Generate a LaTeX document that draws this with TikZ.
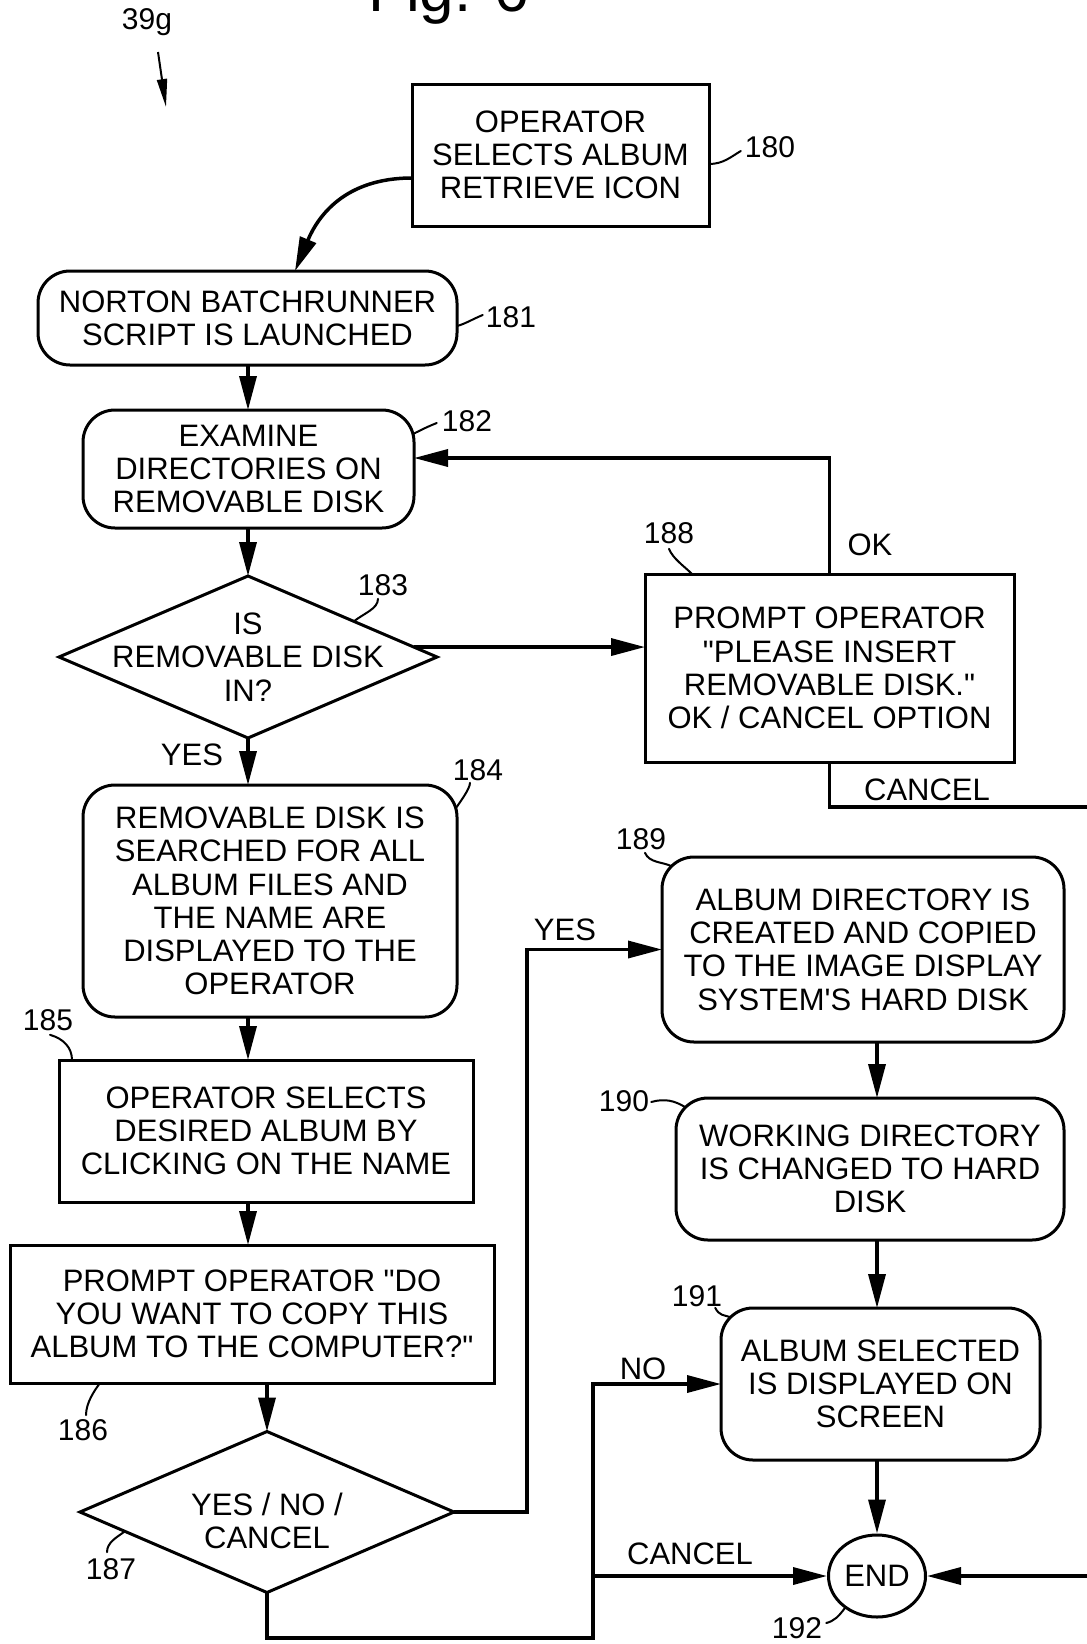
\documentclass[tikz,border=0pt]{standalone}
\usepackage{fontspec}
\setmainfont{Liberation Sans}[Ligatures=TeXOff]
\usetikzlibrary{arrows.meta,shapes.geometric,calc}
\newcommand\txtfont{\fontsize{31}{33.3}\selectfont}
\newcommand\numfont{\fontsize{30}{32}\selectfont}
\begin{document}
\begin{tikzpicture}[x=1pt,y=-1pt,
  box/.style={draw,line width=3pt,align=center,font=\txtfont,inner sep=0pt,outer sep=0pt},
  rbox/.style={box,rounded corners=32pt},
  dia/.style={draw,diamond,line width=3pt,inner sep=0pt,outer sep=0pt},
  txt/.style={align=center,font=\txtfont,inner sep=0pt},
  lbl/.style={font=\numfont,inner sep=1pt},
  arr/.style={line width=3.5pt,-{Triangle[length=34pt,width=17pt]}},
  lead/.style={line width=2pt,line cap=round},
]
\path[use as bounding box] (0,0) rectangle (1087,1644);
\clip (0,0) rectangle (1087,1644);

% figure title, partly above the sheet
\node[font=\fontsize{62}{64}\selectfont,anchor=base west,inner sep=0pt] (fig) at (368,11) {Fig. 6};

% reference pointer
\node[lbl] (l39) at (147,22) {39g};
\coordinate (p39) at (158,52);
\coordinate (q39) at (166,107);
\draw[line width=2pt,-{Triangle[length=28pt,width=10pt]}] (p39) -- (q39);

% process steps
\node[box,minimum width=297pt,minimum height=142pt] (b180) at (560.5,155) {OPERATOR\\SELECTS ALBUM\\RETRIEVE ICON};
\node[rbox,minimum width=419pt,minimum height=94pt] (b181) at (247.5,318) {NORTON BATCHRUNNER\\SCRIPT IS LAUNCHED};
\node[rbox,minimum width=331pt,minimum height=118pt] (b182) at (248.5,469) {EXAMINE\\DIRECTORIES ON\\REMOVABLE DISK};
\node[dia,minimum width=378pt,minimum height=162pt] (d183) at (248,657) {};
\node[txt] (t183) at (248,657) {IS\\REMOVABLE DISK\\IN?};
\node[rbox,minimum width=374pt,minimum height=232pt] (b184) at (270,901) {REMOVABLE DISK IS\\SEARCHED FOR ALL\\ALBUM FILES AND\\THE NAME ARE\\DISPLAYED TO THE\\OPERATOR};
\node[box,minimum width=414pt,minimum height=142pt] (b185) at (266,1131) {OPERATOR SELECTS\\DESIRED ALBUM BY\\CLICKING ON THE NAME};
\node[box,minimum width=484pt,minimum height=138pt] (b186) at (252,1314) {PROMPT OPERATOR "DO\\YOU WANT TO COPY THIS\\ALBUM TO THE COMPUTER?"};
\node[dia,minimum width=374pt,minimum height=161pt] (d187) at (267,1512) {};
\node[txt] (t187) at (267,1521) {YES / NO /\\CANCEL};
\node[box,minimum width=369pt,minimum height=188pt] (b188) at (829.5,668) {PROMPT OPERATOR\\"PLEASE INSERT\\REMOVABLE DISK."\\OK / CANCEL OPTION};
\node[rbox,minimum width=402pt,minimum height=185pt] (b189) at (863,949.5) {ALBUM DIRECTORY IS\\CREATED AND COPIED\\TO THE IMAGE DISPLAY\\SYSTEM'S HARD DISK};
\node[rbox,minimum width=388pt,minimum height=142pt] (b190) at (870,1169) {WORKING DIRECTORY\\IS CHANGED TO HARD\\DISK};
\node[rbox,minimum width=319pt,minimum height=152pt] (b191) at (880.5,1384) {ALBUM SELECTED\\IS DISPLAYED ON\\SCREEN};
\node[draw,ellipse,line width=3pt,minimum width=97pt,minimum height=82pt,inner sep=0pt,font=\txtfont] (e192) at (877,1576) {END};

% reference numerals
\node[lbl] (l180) at (770,147) {180};
\node[lbl] (l181) at (511,317) {181};
\node[lbl] (l182) at (467,421) {182};
\node[lbl] (l183) at (383,585) {183};
\node[lbl] (l184) at (478,770) {184};
\node[lbl] (l185) at (48,1020) {185};
\node[lbl] (l186) at (83,1430) {186};
\node[lbl] (l187) at (111,1569) {187};
\node[lbl] (l188) at (669,533) {188};
\node[lbl] (l189) at (641,839) {189};
\node[lbl] (l190) at (624,1101) {190};
\node[lbl] (l191) at (697,1296) {191};
\node[lbl] (l192) at (797,1628) {192};

% leaders from numerals to their steps
\draw[lead] ($(b180.east)+(0,9)$) .. controls +(14,0) and +(-10,6) .. ($(l180.west)+(-3,4)$);
\draw[lead] ($(b181.east)+(0,8)$) .. controls +(8,-2) and +(-10,4) .. ($(l181.west)+(-2,-2)$);
\draw[lead] ($(b182.north east)+(-1,24)$) .. controls +(8,-4) and +(-10,4) .. ($(l182.west)+(-4,2)$);
\draw[lead] ($(d183.north)!0.56!(d183.east)$) .. controls +(10,-8) and +(0,10) .. ($(l183.south)+(-5,2)$);
\draw[lead] ($(b184.north east)+(-1,23)$) .. controls +(4,-6) and +(0,6) .. ($(l184.south)+(-8,1)$);
\draw[lead] ($(l185.south)+(2,3)$) .. controls +(14,4) and +(0,-12) .. ($(b185.north west)+(13,0)$);
\draw[lead] ($(l186.north)+(3,-3)$) .. controls +(0,-12) and +(-6,8) .. ($(b186.south west)+(90,0)$);
\draw[lead] ($(l187.north)+(-4,-5)$) .. controls +(0,-10) and +(-8,6) .. ($(d187.west)!0.24!(d187.south)$);
\draw[lead] ($(l188.south)+(0,4)$) .. controls +(4,10) and +(-8,-8) .. ($(b188.north west)+(47,0)$);
\draw[lead] ($(l189.south)+(4,2)$) .. controls +(4,10) and +(-8,-4) .. ($(b189.north west)+(9,9)$);
\draw[lead] ($(l190.east)+(1,1)$) .. controls +(14,-4) and +(-10,-6) .. ($(b190.north west)+(9,9)$);
\draw[lead] ($(l191.south east)+(-8,0)$) .. controls +(4,8) and +(-6,-2) .. ($(b191.north west)+(9,9)$);
\draw[lead] ($(l192.east)+(3,-5)$) .. controls +(8,-2) and +(-6,8) .. (e192.225);

% main flow
\coordinate (colL) at (248,0);
\draw[arr] ($(b180.west)+(0,23)$) .. controls +(-67,0) and +(23,-55) .. ($(b181.north)+(47.5,0)$);
\draw[arr] (b181.south -| colL) -- (b182.north -| colL);
\draw[arr] (b182.south -| d183.north) -- (d183.north);
\draw[arr] (d183.south) -- (d183.south |- b184.north);
\draw[arr] (b184.south -| colL) -- (b185.north -| colL);
\draw[arr] (b185.south -| colL) -- (b186.north -| colL);
\draw[arr] (b186.south -| d187.north) -- (d187.north);

% disk missing: prompt, retry or cancel
\coordinate (q183) at ($(d183.east)!0.123!(d183.north)$);
\draw[arr] (q183) -- (q183 -| b188.west);
\draw[arr] (b188.north) |- ($(b182.east)+(0,-11)$);
\coordinate (cr) at (1105,807);
\draw[arr] (b188.south) |- (cr) |- (e192.east);

% answer to the copy prompt
\coordinate (yesx) at (527,0);
\draw[arr] (d187.east) -- (d187.east -| yesx) |- (b189.west);
\coordinate (nob) at (593,1638);
\draw[arr] (d187.south) |- (nob) |- (b191.west);
\draw[arr] (nob |- e192.west) -- (e192.west);

% right column
\coordinate (colR) at (877,0);
\draw[arr] (b189.south -| colR) -- (b190.north -| colR);
\draw[arr] (b190.south -| colR) -- (b191.north -| colR);
\draw[arr] (b191.south -| colR) -- (e192.north);

% branch labels
\node[txt] (yes1) at (192,755) {YES};
\node[txt] (ok) at (870,545) {OK};
\node[txt] (can1) at (927,790) {CANCEL};
\node[txt] (yes2) at (565,930) {YES};
\node[txt] (no) at (643,1369) {NO};
\node[txt] (can2) at (690,1554) {CANCEL};
\end{tikzpicture}
\end{document}
